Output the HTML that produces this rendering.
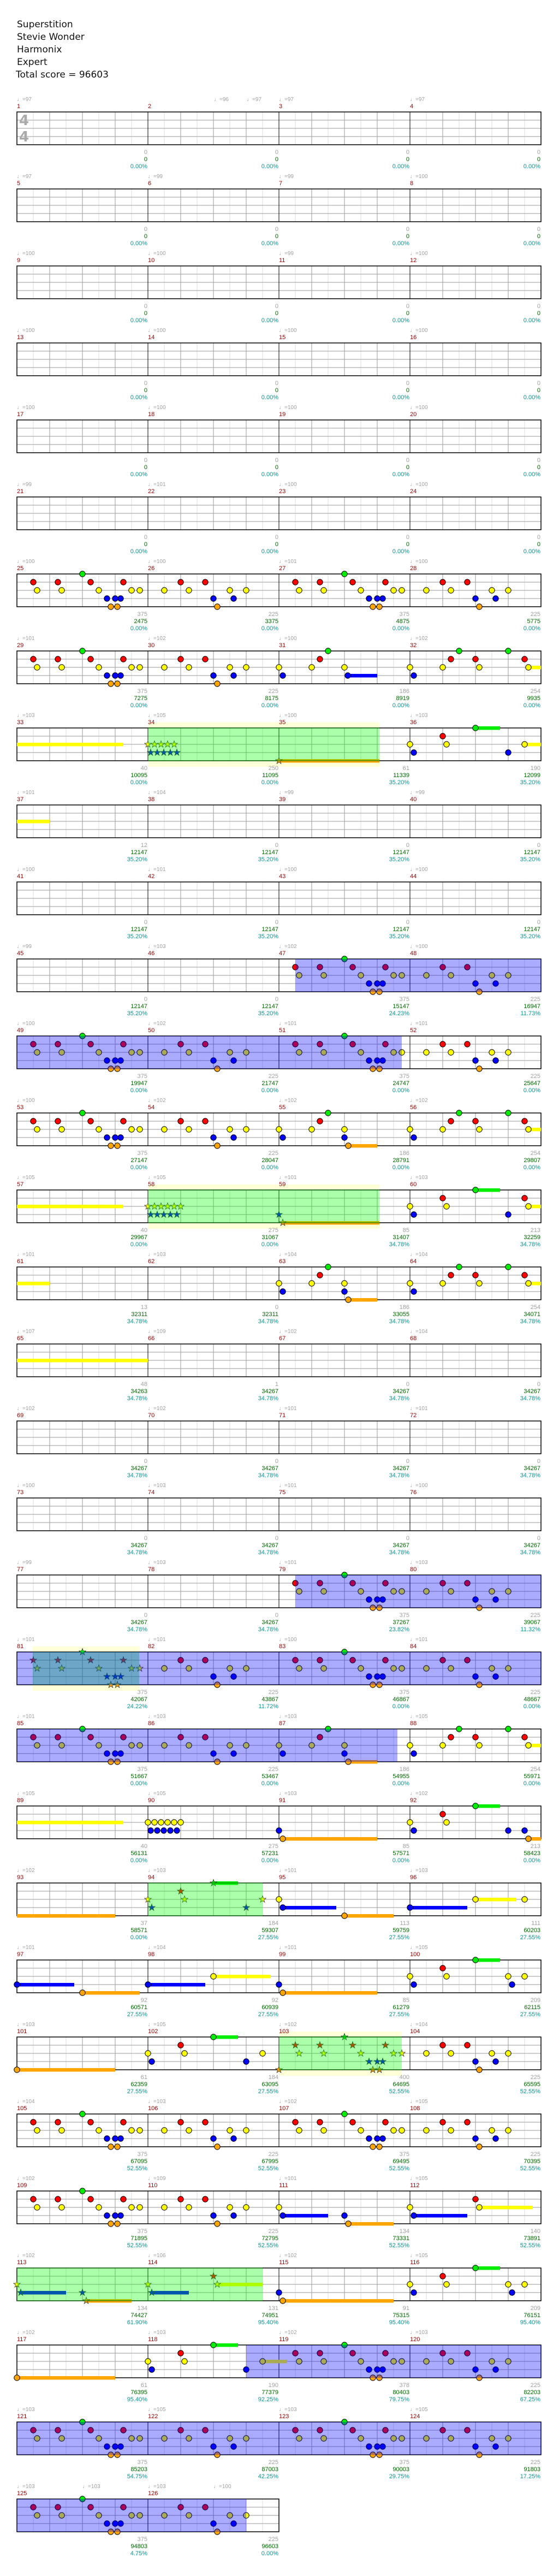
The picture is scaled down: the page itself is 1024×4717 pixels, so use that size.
<!DOCTYPE html>
<html><head><meta charset="utf-8">
<style>
html,body{margin:0;padding:0;background:#fff;}
svg{display:block;}
.h{font-family:"DejaVu Sans","Liberation Sans",sans-serif;font-size:17px;fill:#111;}
.tp{font-family:"Liberation Sans","DejaVu Sans",sans-serif;font-size:10px;fill:#a0a0a0;}
.mn{font-family:"Liberation Sans",sans-serif;font-size:11px;fill:#990000;}
.s1{font-family:"Liberation Sans",sans-serif;font-size:11px;fill:#a0a0a0;text-anchor:end;}
.s2{font-family:"Liberation Sans",sans-serif;font-size:11px;fill:#006600;text-anchor:end;}
.s3{font-family:"Liberation Sans",sans-serif;font-size:11px;fill:#009999;text-anchor:end;}
.ts{font-family:"DejaVu Sans","Liberation Sans",sans-serif;font-size:26px;font-weight:bold;fill:#aaa;}
</style></head>
<body>
<svg id="s" xmlns="http://www.w3.org/2000/svg" width="1024" height="4717" viewBox="0 0 1024 4717">
<rect width="1024" height="4717" fill="#fff"/>
<g id="shapes"></g>
<g id="txt">
<text class="h" x="31" y="50">Superstition</text>
<text class="h" x="31" y="73">Stevie Wonder</text>
<text class="h" x="31" y="96">Harmonix</text>
<text class="h" x="31" y="119">Expert</text>
<text class="h" x="29" y="142">Total score = 96603</text>
<text class="ts" x="35" y="229">4</text>
<text class="ts" x="35" y="259">4</text>

<g transform="translate(0,0)"><text class="tp" y="185"><tspan x="31">♩=97</tspan><tspan x="392">♩=96</tspan><tspan x="452">♩=97</tspan><tspan x="511">♩=97</tspan><tspan x="751">♩=97</tspan></text><text class="mn" y="198"><tspan x="31">1</tspan><tspan x="271">2</tspan><tspan x="511">3</tspan><tspan x="751">4</tspan></text><text class="s1" y="282"><tspan x="270">0</tspan><tspan x="510">0</tspan><tspan x="750">0</tspan><tspan x="990">0</tspan></text><text class="s2" y="295"><tspan x="270">0</tspan><tspan x="510">0</tspan><tspan x="750">0</tspan><tspan x="990">0</tspan></text><text class="s3" y="308"><tspan x="270">0.00%</tspan><tspan x="510">0.00%</tspan><tspan x="750">0.00%</tspan><tspan x="990">0.00%</tspan></text></g>
<g transform="translate(0,141)"><text class="tp" y="185"><tspan x="31">♩=97</tspan><tspan x="271">♩=99</tspan><tspan x="511">♩=99</tspan><tspan x="751">♩=100</tspan></text><text class="mn" y="198"><tspan x="31">5</tspan><tspan x="271">6</tspan><tspan x="511">7</tspan><tspan x="751">8</tspan></text><text class="s1" y="282"><tspan x="270">0</tspan><tspan x="510">0</tspan><tspan x="750">0</tspan><tspan x="990">0</tspan></text><text class="s2" y="295"><tspan x="270">0</tspan><tspan x="510">0</tspan><tspan x="750">0</tspan><tspan x="990">0</tspan></text><text class="s3" y="308"><tspan x="270">0.00%</tspan><tspan x="510">0.00%</tspan><tspan x="750">0.00%</tspan><tspan x="990">0.00%</tspan></text></g>
<g transform="translate(0,282)"><text class="tp" y="185"><tspan x="31">♩=100</tspan><tspan x="271">♩=100</tspan><tspan x="511">♩=99</tspan><tspan x="751">♩=100</tspan></text><text class="mn" y="198"><tspan x="31">9</tspan><tspan x="271">10</tspan><tspan x="511">11</tspan><tspan x="751">12</tspan></text><text class="s1" y="282"><tspan x="270">0</tspan><tspan x="510">0</tspan><tspan x="750">0</tspan><tspan x="990">0</tspan></text><text class="s2" y="295"><tspan x="270">0</tspan><tspan x="510">0</tspan><tspan x="750">0</tspan><tspan x="990">0</tspan></text><text class="s3" y="308"><tspan x="270">0.00%</tspan><tspan x="510">0.00%</tspan><tspan x="750">0.00%</tspan><tspan x="990">0.00%</tspan></text></g>
<g transform="translate(0,423)"><text class="tp" y="185"><tspan x="31">♩=100</tspan><tspan x="271">♩=100</tspan><tspan x="511">♩=100</tspan><tspan x="751">♩=100</tspan></text><text class="mn" y="198"><tspan x="31">13</tspan><tspan x="271">14</tspan><tspan x="511">15</tspan><tspan x="751">16</tspan></text><text class="s1" y="282"><tspan x="270">0</tspan><tspan x="510">0</tspan><tspan x="750">0</tspan><tspan x="990">0</tspan></text><text class="s2" y="295"><tspan x="270">0</tspan><tspan x="510">0</tspan><tspan x="750">0</tspan><tspan x="990">0</tspan></text><text class="s3" y="308"><tspan x="270">0.00%</tspan><tspan x="510">0.00%</tspan><tspan x="750">0.00%</tspan><tspan x="990">0.00%</tspan></text></g>
<g transform="translate(0,564)"><text class="tp" y="185"><tspan x="31">♩=100</tspan><tspan x="271">♩=100</tspan><tspan x="511">♩=100</tspan><tspan x="751">♩=100</tspan></text><text class="mn" y="198"><tspan x="31">17</tspan><tspan x="271">18</tspan><tspan x="511">19</tspan><tspan x="751">20</tspan></text><text class="s1" y="282"><tspan x="270">0</tspan><tspan x="510">0</tspan><tspan x="750">0</tspan><tspan x="990">0</tspan></text><text class="s2" y="295"><tspan x="270">0</tspan><tspan x="510">0</tspan><tspan x="750">0</tspan><tspan x="990">0</tspan></text><text class="s3" y="308"><tspan x="270">0.00%</tspan><tspan x="510">0.00%</tspan><tspan x="750">0.00%</tspan><tspan x="990">0.00%</tspan></text></g>
<g transform="translate(0,705)"><text class="tp" y="185"><tspan x="31">♩=99</tspan><tspan x="271">♩=101</tspan><tspan x="511">♩=100</tspan><tspan x="751">♩=100</tspan></text><text class="mn" y="198"><tspan x="31">21</tspan><tspan x="271">22</tspan><tspan x="511">23</tspan><tspan x="751">24</tspan></text><text class="s1" y="282"><tspan x="270">0</tspan><tspan x="510">0</tspan><tspan x="750">0</tspan><tspan x="990">0</tspan></text><text class="s2" y="295"><tspan x="270">0</tspan><tspan x="510">0</tspan><tspan x="750">0</tspan><tspan x="990">0</tspan></text><text class="s3" y="308"><tspan x="270">0.00%</tspan><tspan x="510">0.00%</tspan><tspan x="750">0.00%</tspan><tspan x="990">0.00%</tspan></text></g>
<g transform="translate(0,846)"><text class="tp" y="185"><tspan x="31">♩=100</tspan><tspan x="271">♩=100</tspan><tspan x="511">♩=101</tspan><tspan x="751">♩=100</tspan></text><text class="mn" y="198"><tspan x="31">25</tspan><tspan x="271">26</tspan><tspan x="511">27</tspan><tspan x="751">28</tspan></text><text class="s1" y="282"><tspan x="270">375</tspan><tspan x="510">225</tspan><tspan x="750">375</tspan><tspan x="990">225</tspan></text><text class="s2" y="295"><tspan x="270">2475</tspan><tspan x="510">3375</tspan><tspan x="750">4875</tspan><tspan x="990">5775</tspan></text><text class="s3" y="308"><tspan x="270">0.00%</tspan><tspan x="510">0.00%</tspan><tspan x="750">0.00%</tspan><tspan x="990">0.00%</tspan></text></g>
<g transform="translate(0,987)"><text class="tp" y="185"><tspan x="31">♩=101</tspan><tspan x="271">♩=102</tspan><tspan x="511">♩=100</tspan><tspan x="751">♩=102</tspan></text><text class="mn" y="198"><tspan x="31">29</tspan><tspan x="271">30</tspan><tspan x="511">31</tspan><tspan x="751">32</tspan></text><text class="s1" y="282"><tspan x="270">375</tspan><tspan x="510">225</tspan><tspan x="750">186</tspan><tspan x="990">254</tspan></text><text class="s2" y="295"><tspan x="270">7275</tspan><tspan x="510">8175</tspan><tspan x="750">8919</tspan><tspan x="990">9935</tspan></text><text class="s3" y="308"><tspan x="270">0.00%</tspan><tspan x="510">0.00%</tspan><tspan x="750">0.00%</tspan><tspan x="990">0.00%</tspan></text></g>
<g transform="translate(0,1128)"><text class="tp" y="185"><tspan x="31">♩=103</tspan><tspan x="271">♩=105</tspan><tspan x="511">♩=100</tspan><tspan x="751">♩=103</tspan></text><text class="mn" y="198"><tspan x="31">33</tspan><tspan x="271">34</tspan><tspan x="511">35</tspan><tspan x="751">36</tspan></text><text class="s1" y="282"><tspan x="270">40</tspan><tspan x="510">250</tspan><tspan x="750">61</tspan><tspan x="990">190</tspan></text><text class="s2" y="295"><tspan x="270">10095</tspan><tspan x="510">11095</tspan><tspan x="750">11339</tspan><tspan x="990">12099</tspan></text><text class="s3" y="308"><tspan x="270">0.00%</tspan><tspan x="510">0.00%</tspan><tspan x="750">35.20%</tspan><tspan x="990">35.20%</tspan></text></g>
<g transform="translate(0,1269)"><text class="tp" y="185"><tspan x="31">♩=101</tspan><tspan x="271">♩=104</tspan><tspan x="511">♩=99</tspan><tspan x="751">♩=99</tspan></text><text class="mn" y="198"><tspan x="31">37</tspan><tspan x="271">38</tspan><tspan x="511">39</tspan><tspan x="751">40</tspan></text><text class="s1" y="282"><tspan x="270">12</tspan><tspan x="510">0</tspan><tspan x="750">0</tspan><tspan x="990">0</tspan></text><text class="s2" y="295"><tspan x="270">12147</tspan><tspan x="510">12147</tspan><tspan x="750">12147</tspan><tspan x="990">12147</tspan></text><text class="s3" y="308"><tspan x="270">35.20%</tspan><tspan x="510">35.20%</tspan><tspan x="750">35.20%</tspan><tspan x="990">35.20%</tspan></text></g>
<g transform="translate(0,1410)"><text class="tp" y="185"><tspan x="31">♩=100</tspan><tspan x="271">♩=101</tspan><tspan x="511">♩=100</tspan><tspan x="751">♩=100</tspan></text><text class="mn" y="198"><tspan x="31">41</tspan><tspan x="271">42</tspan><tspan x="511">43</tspan><tspan x="751">44</tspan></text><text class="s1" y="282"><tspan x="270">0</tspan><tspan x="510">0</tspan><tspan x="750">0</tspan><tspan x="990">0</tspan></text><text class="s2" y="295"><tspan x="270">12147</tspan><tspan x="510">12147</tspan><tspan x="750">12147</tspan><tspan x="990">12147</tspan></text><text class="s3" y="308"><tspan x="270">35.20%</tspan><tspan x="510">35.20%</tspan><tspan x="750">35.20%</tspan><tspan x="990">35.20%</tspan></text></g>
<g transform="translate(0,1551)"><text class="tp" y="185"><tspan x="31">♩=99</tspan><tspan x="271">♩=103</tspan><tspan x="511">♩=102</tspan><tspan x="751">♩=100</tspan></text><text class="mn" y="198"><tspan x="31">45</tspan><tspan x="271">46</tspan><tspan x="511">47</tspan><tspan x="751">48</tspan></text><text class="s1" y="282"><tspan x="270">0</tspan><tspan x="510">0</tspan><tspan x="750">375</tspan><tspan x="990">225</tspan></text><text class="s2" y="295"><tspan x="270">12147</tspan><tspan x="510">12147</tspan><tspan x="750">15147</tspan><tspan x="990">16947</tspan></text><text class="s3" y="308"><tspan x="270">35.20%</tspan><tspan x="510">35.20%</tspan><tspan x="750">24.23%</tspan><tspan x="990">11.73%</tspan></text></g>
<g transform="translate(0,1692)"><text class="tp" y="185"><tspan x="31">♩=100</tspan><tspan x="271">♩=102</tspan><tspan x="511">♩=101</tspan><tspan x="751">♩=101</tspan></text><text class="mn" y="198"><tspan x="31">49</tspan><tspan x="271">50</tspan><tspan x="511">51</tspan><tspan x="751">52</tspan></text><text class="s1" y="282"><tspan x="270">375</tspan><tspan x="510">225</tspan><tspan x="750">375</tspan><tspan x="990">225</tspan></text><text class="s2" y="295"><tspan x="270">19947</tspan><tspan x="510">21747</tspan><tspan x="750">24747</tspan><tspan x="990">25647</tspan></text><text class="s3" y="308"><tspan x="270">0.00%</tspan><tspan x="510">0.00%</tspan><tspan x="750">0.00%</tspan><tspan x="990">0.00%</tspan></text></g>
<g transform="translate(0,1833)"><text class="tp" y="185"><tspan x="31">♩=100</tspan><tspan x="271">♩=102</tspan><tspan x="511">♩=102</tspan><tspan x="751">♩=102</tspan></text><text class="mn" y="198"><tspan x="31">53</tspan><tspan x="271">54</tspan><tspan x="511">55</tspan><tspan x="751">56</tspan></text><text class="s1" y="282"><tspan x="270">375</tspan><tspan x="510">225</tspan><tspan x="750">186</tspan><tspan x="990">254</tspan></text><text class="s2" y="295"><tspan x="270">27147</tspan><tspan x="510">28047</tspan><tspan x="750">28791</tspan><tspan x="990">29807</tspan></text><text class="s3" y="308"><tspan x="270">0.00%</tspan><tspan x="510">0.00%</tspan><tspan x="750">0.00%</tspan><tspan x="990">0.00%</tspan></text></g>
<g transform="translate(0,1974)"><text class="tp" y="185"><tspan x="31">♩=105</tspan><tspan x="271">♩=105</tspan><tspan x="511">♩=101</tspan><tspan x="751">♩=103</tspan></text><text class="mn" y="198"><tspan x="31">57</tspan><tspan x="271">58</tspan><tspan x="511">59</tspan><tspan x="751">60</tspan></text><text class="s1" y="282"><tspan x="270">40</tspan><tspan x="510">275</tspan><tspan x="750">85</tspan><tspan x="990">213</tspan></text><text class="s2" y="295"><tspan x="270">29967</tspan><tspan x="510">31067</tspan><tspan x="750">31407</tspan><tspan x="990">32259</tspan></text><text class="s3" y="308"><tspan x="270">0.00%</tspan><tspan x="510">0.00%</tspan><tspan x="750">34.78%</tspan><tspan x="990">34.78%</tspan></text></g>
<g transform="translate(0,2115)"><text class="tp" y="185"><tspan x="31">♩=101</tspan><tspan x="271">♩=103</tspan><tspan x="511">♩=104</tspan><tspan x="751">♩=104</tspan></text><text class="mn" y="198"><tspan x="31">61</tspan><tspan x="271">62</tspan><tspan x="511">63</tspan><tspan x="751">64</tspan></text><text class="s1" y="282"><tspan x="270">13</tspan><tspan x="510">0</tspan><tspan x="750">186</tspan><tspan x="990">254</tspan></text><text class="s2" y="295"><tspan x="270">32311</tspan><tspan x="510">32311</tspan><tspan x="750">33055</tspan><tspan x="990">34071</tspan></text><text class="s3" y="308"><tspan x="270">34.78%</tspan><tspan x="510">34.78%</tspan><tspan x="750">34.78%</tspan><tspan x="990">34.78%</tspan></text></g>
<g transform="translate(0,2256)"><text class="tp" y="185"><tspan x="31">♩=107</tspan><tspan x="271">♩=109</tspan><tspan x="511">♩=102</tspan><tspan x="751">♩=104</tspan></text><text class="mn" y="198"><tspan x="31">65</tspan><tspan x="271">66</tspan><tspan x="511">67</tspan><tspan x="751">68</tspan></text><text class="s1" y="282"><tspan x="270">48</tspan><tspan x="510">1</tspan><tspan x="750">0</tspan><tspan x="990">0</tspan></text><text class="s2" y="295"><tspan x="270">34263</tspan><tspan x="510">34267</tspan><tspan x="750">34267</tspan><tspan x="990">34267</tspan></text><text class="s3" y="308"><tspan x="270">34.78%</tspan><tspan x="510">34.78%</tspan><tspan x="750">34.78%</tspan><tspan x="990">34.78%</tspan></text></g>
<g transform="translate(0,2397)"><text class="tp" y="185"><tspan x="31">♩=102</tspan><tspan x="271">♩=102</tspan><tspan x="511">♩=101</tspan><tspan x="751">♩=101</tspan></text><text class="mn" y="198"><tspan x="31">69</tspan><tspan x="271">70</tspan><tspan x="511">71</tspan><tspan x="751">72</tspan></text><text class="s1" y="282"><tspan x="270">0</tspan><tspan x="510">0</tspan><tspan x="750">0</tspan><tspan x="990">0</tspan></text><text class="s2" y="295"><tspan x="270">34267</tspan><tspan x="510">34267</tspan><tspan x="750">34267</tspan><tspan x="990">34267</tspan></text><text class="s3" y="308"><tspan x="270">34.78%</tspan><tspan x="510">34.78%</tspan><tspan x="750">34.78%</tspan><tspan x="990">34.78%</tspan></text></g>
<g transform="translate(0,2538)"><text class="tp" y="185"><tspan x="31">♩=100</tspan><tspan x="271">♩=103</tspan><tspan x="511">♩=101</tspan><tspan x="751">♩=100</tspan></text><text class="mn" y="198"><tspan x="31">73</tspan><tspan x="271">74</tspan><tspan x="511">75</tspan><tspan x="751">76</tspan></text><text class="s1" y="282"><tspan x="270">0</tspan><tspan x="510">0</tspan><tspan x="750">0</tspan><tspan x="990">0</tspan></text><text class="s2" y="295"><tspan x="270">34267</tspan><tspan x="510">34267</tspan><tspan x="750">34267</tspan><tspan x="990">34267</tspan></text><text class="s3" y="308"><tspan x="270">34.78%</tspan><tspan x="510">34.78%</tspan><tspan x="750">34.78%</tspan><tspan x="990">34.78%</tspan></text></g>
<g transform="translate(0,2679)"><text class="tp" y="185"><tspan x="31">♩=99</tspan><tspan x="271">♩=103</tspan><tspan x="511">♩=101</tspan><tspan x="751">♩=103</tspan></text><text class="mn" y="198"><tspan x="31">77</tspan><tspan x="271">78</tspan><tspan x="511">79</tspan><tspan x="751">80</tspan></text><text class="s1" y="282"><tspan x="270">0</tspan><tspan x="510">0</tspan><tspan x="750">375</tspan><tspan x="990">225</tspan></text><text class="s2" y="295"><tspan x="270">34267</tspan><tspan x="510">34267</tspan><tspan x="750">37267</tspan><tspan x="990">39067</tspan></text><text class="s3" y="308"><tspan x="270">34.78%</tspan><tspan x="510">34.78%</tspan><tspan x="750">23.82%</tspan><tspan x="990">11.32%</tspan></text></g>
<g transform="translate(0,2820)"><text class="tp" y="185"><tspan x="31">♩=101</tspan><tspan x="271">♩=101</tspan><tspan x="511">♩=100</tspan><tspan x="751">♩=101</tspan></text><text class="mn" y="198"><tspan x="31">81</tspan><tspan x="271">82</tspan><tspan x="511">83</tspan><tspan x="751">84</tspan></text><text class="s1" y="282"><tspan x="270">375</tspan><tspan x="510">225</tspan><tspan x="750">375</tspan><tspan x="990">225</tspan></text><text class="s2" y="295"><tspan x="270">42067</tspan><tspan x="510">43867</tspan><tspan x="750">46867</tspan><tspan x="990">48667</tspan></text><text class="s3" y="308"><tspan x="270">24.22%</tspan><tspan x="510">11.72%</tspan><tspan x="750">0.00%</tspan><tspan x="990">0.00%</tspan></text></g>
<g transform="translate(0,2961)"><text class="tp" y="185"><tspan x="31">♩=101</tspan><tspan x="271">♩=103</tspan><tspan x="511">♩=103</tspan><tspan x="751">♩=105</tspan></text><text class="mn" y="198"><tspan x="31">85</tspan><tspan x="271">86</tspan><tspan x="511">87</tspan><tspan x="751">88</tspan></text><text class="s1" y="282"><tspan x="270">375</tspan><tspan x="510">225</tspan><tspan x="750">186</tspan><tspan x="990">254</tspan></text><text class="s2" y="295"><tspan x="270">51667</tspan><tspan x="510">53467</tspan><tspan x="750">54955</tspan><tspan x="990">55971</tspan></text><text class="s3" y="308"><tspan x="270">0.00%</tspan><tspan x="510">0.00%</tspan><tspan x="750">0.00%</tspan><tspan x="990">0.00%</tspan></text></g>
<g transform="translate(0,3102)"><text class="tp" y="185"><tspan x="31">♩=105</tspan><tspan x="271">♩=105</tspan><tspan x="511">♩=103</tspan><tspan x="751">♩=102</tspan></text><text class="mn" y="198"><tspan x="31">89</tspan><tspan x="271">90</tspan><tspan x="511">91</tspan><tspan x="751">92</tspan></text><text class="s1" y="282"><tspan x="270">40</tspan><tspan x="510">275</tspan><tspan x="750">85</tspan><tspan x="990">213</tspan></text><text class="s2" y="295"><tspan x="270">56131</tspan><tspan x="510">57231</tspan><tspan x="750">57571</tspan><tspan x="990">58423</tspan></text><text class="s3" y="308"><tspan x="270">0.00%</tspan><tspan x="510">0.00%</tspan><tspan x="750">0.00%</tspan><tspan x="990">0.00%</tspan></text></g>
<g transform="translate(0,3243)"><text class="tp" y="185"><tspan x="31">♩=102</tspan><tspan x="271">♩=103</tspan><tspan x="511">♩=101</tspan><tspan x="751">♩=103</tspan></text><text class="mn" y="198"><tspan x="31">93</tspan><tspan x="271">94</tspan><tspan x="511">95</tspan><tspan x="751">96</tspan></text><text class="s1" y="282"><tspan x="270">37</tspan><tspan x="510">184</tspan><tspan x="750">113</tspan><tspan x="990">111</tspan></text><text class="s2" y="295"><tspan x="270">58571</tspan><tspan x="510">59307</tspan><tspan x="750">59759</tspan><tspan x="990">60203</tspan></text><text class="s3" y="308"><tspan x="270">0.00%</tspan><tspan x="510">27.55%</tspan><tspan x="750">27.55%</tspan><tspan x="990">27.55%</tspan></text></g>
<g transform="translate(0,3384)"><text class="tp" y="185"><tspan x="31">♩=101</tspan><tspan x="271">♩=104</tspan><tspan x="511">♩=101</tspan><tspan x="751">♩=105</tspan></text><text class="mn" y="198"><tspan x="31">97</tspan><tspan x="271">98</tspan><tspan x="511">99</tspan><tspan x="751">100</tspan></text><text class="s1" y="282"><tspan x="270">92</tspan><tspan x="510">92</tspan><tspan x="750">85</tspan><tspan x="990">209</tspan></text><text class="s2" y="295"><tspan x="270">60571</tspan><tspan x="510">60939</tspan><tspan x="750">61279</tspan><tspan x="990">62115</tspan></text><text class="s3" y="308"><tspan x="270">27.55%</tspan><tspan x="510">27.55%</tspan><tspan x="750">27.55%</tspan><tspan x="990">27.55%</tspan></text></g>
<g transform="translate(0,3525)"><text class="tp" y="185"><tspan x="31">♩=103</tspan><tspan x="271">♩=105</tspan><tspan x="511">♩=102</tspan><tspan x="751">♩=104</tspan></text><text class="mn" y="198"><tspan x="31">101</tspan><tspan x="271">102</tspan><tspan x="511">103</tspan><tspan x="751">104</tspan></text><text class="s1" y="282"><tspan x="270">61</tspan><tspan x="510">184</tspan><tspan x="750">400</tspan><tspan x="990">225</tspan></text><text class="s2" y="295"><tspan x="270">62359</tspan><tspan x="510">63095</tspan><tspan x="750">64695</tspan><tspan x="990">65595</tspan></text><text class="s3" y="308"><tspan x="270">27.55%</tspan><tspan x="510">27.55%</tspan><tspan x="750">52.55%</tspan><tspan x="990">52.55%</tspan></text></g>
<g transform="translate(0,3666)"><text class="tp" y="185"><tspan x="31">♩=104</tspan><tspan x="271">♩=103</tspan><tspan x="511">♩=102</tspan><tspan x="751">♩=105</tspan></text><text class="mn" y="198"><tspan x="31">105</tspan><tspan x="271">106</tspan><tspan x="511">107</tspan><tspan x="751">108</tspan></text><text class="s1" y="282"><tspan x="270">375</tspan><tspan x="510">225</tspan><tspan x="750">375</tspan><tspan x="990">225</tspan></text><text class="s2" y="295"><tspan x="270">67095</tspan><tspan x="510">67995</tspan><tspan x="750">69495</tspan><tspan x="990">70395</tspan></text><text class="s3" y="308"><tspan x="270">52.55%</tspan><tspan x="510">52.55%</tspan><tspan x="750">52.55%</tspan><tspan x="990">52.55%</tspan></text></g>
<g transform="translate(0,3807)"><text class="tp" y="185"><tspan x="31">♩=102</tspan><tspan x="271">♩=109</tspan><tspan x="511">♩=101</tspan><tspan x="751">♩=105</tspan></text><text class="mn" y="198"><tspan x="31">109</tspan><tspan x="271">110</tspan><tspan x="511">111</tspan><tspan x="751">112</tspan></text><text class="s1" y="282"><tspan x="270">375</tspan><tspan x="510">225</tspan><tspan x="750">134</tspan><tspan x="990">140</tspan></text><text class="s2" y="295"><tspan x="270">71895</tspan><tspan x="510">72795</tspan><tspan x="750">73331</tspan><tspan x="990">73891</tspan></text><text class="s3" y="308"><tspan x="270">52.55%</tspan><tspan x="510">52.55%</tspan><tspan x="750">52.55%</tspan><tspan x="990">52.55%</tspan></text></g>
<g transform="translate(0,3948)"><text class="tp" y="185"><tspan x="31">♩=102</tspan><tspan x="271">♩=106</tspan><tspan x="511">♩=102</tspan><tspan x="751">♩=105</tspan></text><text class="mn" y="198"><tspan x="31">113</tspan><tspan x="271">114</tspan><tspan x="511">115</tspan><tspan x="751">116</tspan></text><text class="s1" y="282"><tspan x="270">134</tspan><tspan x="510">131</tspan><tspan x="750">91</tspan><tspan x="990">209</tspan></text><text class="s2" y="295"><tspan x="270">74427</tspan><tspan x="510">74951</tspan><tspan x="750">75315</tspan><tspan x="990">76151</tspan></text><text class="s3" y="308"><tspan x="270">61.90%</tspan><tspan x="510">95.40%</tspan><tspan x="750">95.40%</tspan><tspan x="990">95.40%</tspan></text></g>
<g transform="translate(0,4089)"><text class="tp" y="185"><tspan x="31">♩=102</tspan><tspan x="271">♩=103</tspan><tspan x="511">♩=102</tspan><tspan x="751">♩=103</tspan></text><text class="mn" y="198"><tspan x="31">117</tspan><tspan x="271">118</tspan><tspan x="511">119</tspan><tspan x="751">120</tspan></text><text class="s1" y="282"><tspan x="270">61</tspan><tspan x="510">190</tspan><tspan x="750">378</tspan><tspan x="990">225</tspan></text><text class="s2" y="295"><tspan x="270">76395</tspan><tspan x="510">77379</tspan><tspan x="750">80403</tspan><tspan x="990">82203</tspan></text><text class="s3" y="308"><tspan x="270">95.40%</tspan><tspan x="510">92.25%</tspan><tspan x="750">79.75%</tspan><tspan x="990">67.25%</tspan></text></g>
<g transform="translate(0,4230)"><text class="tp" y="185"><tspan x="31">♩=103</tspan><tspan x="271">♩=105</tspan><tspan x="511">♩=103</tspan><tspan x="751">♩=105</tspan></text><text class="mn" y="198"><tspan x="31">121</tspan><tspan x="271">122</tspan><tspan x="511">123</tspan><tspan x="751">124</tspan></text><text class="s1" y="282"><tspan x="270">375</tspan><tspan x="510">225</tspan><tspan x="750">375</tspan><tspan x="990">225</tspan></text><text class="s2" y="295"><tspan x="270">85203</tspan><tspan x="510">87003</tspan><tspan x="750">90003</tspan><tspan x="990">91803</tspan></text><text class="s3" y="308"><tspan x="270">54.75%</tspan><tspan x="510">42.25%</tspan><tspan x="750">29.75%</tspan><tspan x="990">17.25%</tspan></text></g>
<g transform="translate(0,4371)"><text class="tp" y="185"><tspan x="31">♩=103</tspan><tspan x="151">♩=103</tspan><tspan x="271">♩=103</tspan><tspan x="391">♩=100</tspan></text><text class="mn" y="198"><tspan x="31">125</tspan><tspan x="271">126</tspan></text><text class="s1" y="282"><tspan x="270">375</tspan><tspan x="510">225</tspan></text><text class="s2" y="295"><tspan x="270">94803</tspan><tspan x="510">96603</tspan></text><text class="s3" y="308"><tspan x="270">4.75%</tspan><tspan x="510">0.00%</tspan></text></g>
</g>
</svg>
<script>
(function(){
var NS="http://www.w3.org/2000/svg";
var G=document.getElementById("shapes");
function el(t,a){var e=document.createElementNS(NS,t);for(var k in a)e.setAttribute(k,a[k]);G.appendChild(e);return e;}
var COL=["#00ee00","#ff0000","#ffff00","#0000ff","#ffa500"];
function T(r){return 205+141*r;}
function MX(m){var k=(m-1)%4;return 31+240*k;}
function RW(m){return Math.floor((m-1)/4);}
var A=[[120,0],[30,1],[75,1],[135,1],[195,1],[37,2],[82,2],[150,2],[210,2],[225,2],[165,3],[180,3],[190,3],[172,4],[184,4]];
var B=[[60,1],[105,1],[30,2],[75,2],[150,2],[180,2],[120,3],[157,3],[127,4]];
var C=[[90,0],[75,1],[0,2],[60,2],[120,2],[7,3],[126,3,180]];
var C2=[[90,0],[75,1],[0,2],[60,2],[120,2],[7,3],[120,3],[127,4,180]];
var D=[[90,0],[180,0],[75,1],[120,1],[210,1],[0,2],[60,2],[127,2],[217,2,240],[7,3]];
var E=[[0,2,195,'n']];
var Y60=[[0,2,60,'n']];
var Y240=[[0,2,240,'n']];
var M34=[[0,2,0,'s'],[12,2,0,'s'],[24,2,0,'s'],[36,2,0,'s'],[48,2,0,'s'],[5,3,0,'s'],[17,3,0,'s'],[29,3,0,'s'],[41,3,0,'s'],[53,3,0,'s']];
var M58=M34.concat([[60,2,0,'s']]);
var M35=[[0,4,184,'s']];
var M59=[[0,3,0,'s'],[7,4,184,'s']];
var F36=[[120,0,165],[60,1],[0,2],[67,2],[210,2,240],[7,3],[180,3]];
var F60=[[120,0,165],[60,1],[210,1],[0,2],[67,2],[217,2,240],[7,3],[180,3]];
var F92=[[120,0,165],[60,1],[0,2],[67,2],[7,3],[180,3],[210,3],[217,4,240]];
var M90=[[0,2],[12,2],[24,2],[36,2],[48,2],[60,2],[5,3],[17,3],[29,3],[41,3],[53,3]];
var M91=[[0,3],[7,4,180]];
var M93=[[0,4,180,'n']];
var M94=[[120,0,165,'s'],[60,1,0,'s'],[0,2,0,'s'],[67,2,0,'s'],[210,2,0,'s'],[7,3,0,'s'],[180,3,0,'s']];
var M95=[[0,2],[7,3,105],[120,4,210]];
var M96=[[0,3,105],[120,2,195],[210,2]];
var M97=[[0,3,105],[120,4,225]];
var M98=[[0,3,105],[120,2,225]];
var M99=[[0,3],[7,4,180]];
var M100=[[120,0,165],[60,1],[0,2],[67,2],[180,2],[210,2],[7,3],[187,3]];
var M101=[[0,4,180]];
var M102=[[120,0,165],[60,1],[0,2],[67,2],[210,2],[7,3],[180,3]];
function stars(p){return p.map(function(n){return [n[0],n[1],n[2]||0,'s'];});}
var AS=stars(A);
var M103=AS.concat([[0,4,0,'s']]);
var M111=[[0,2],[7,3,90],[120,3],[127,4,210]];
var M112=[[0,2],[7,3,105],[120,1],[127,2,225]];
var M113=stars([[0,2],[7,3,90],[120,3],[127,4,210]]);
var M114=stars([[0,2],[7,3,75],[120,1],[127,2,210]]);
var M115=[[0,3],[7,4,210]];
var M117=[[0,4,180]];
var M118=[[0,2],[67,2],[60,1],[7,3],[180,3],[120,0,165],[210,2,255]];
var P={25:A,26:B,27:A,28:B,29:A,30:B,31:C,32:D,33:E,34:M34,35:M35,36:F36,37:Y60,47:A,48:B,49:A,50:B,51:A,52:B,53:A,54:B,55:C2,56:D,57:E,58:M58,59:M59,60:F60,61:Y60,63:C2,64:D,65:Y240,79:A,80:B,81:AS,82:B,83:A,84:B,85:A,86:B,87:C2,88:D,89:E,90:M90,91:M91,92:F92,93:M93,94:M94,95:M95,96:M96,97:M97,98:M98,99:M99,100:M100,101:M101,102:M102,103:M103,104:B,105:A,106:B,107:A,108:B,109:A,110:B,111:M111,112:M112,113:M113,114:M114,115:M115,116:M100,117:M117,118:M118,119:A,120:B,121:A,122:B,123:A,124:B,125:A,126:B};
var SP=[[8,271,695,1],[14,271,695,1],[23,271,481,0],[25,511,736,1],[28,31,481,0]];
var OD=[[11,541,991],[12,31,736],[19,541,991],[20,31,991],[21,31,728],[29,451,991],[30,31,991],[31,31,451]];
var TEAL=[[20,60,255]];
SP.forEach(function(s){if(s[3])el("rect",{x:s[1],y:T(s[0])-10,width:s[2]-s[1],height:81,fill:"#ffffd8"});});
TEAL.forEach(function(s){el("rect",{x:s[1],y:T(s[0])-10,width:s[2]-s[1],height:81,fill:"#ffffd8"});});
for(var r=0;r<32;r++){
  var t=T(r),w=(r==31)?480:960,x0=31;
  el("rect",{x:x0,y:t,width:w,height:60,fill:"#fff"});
  for(var x=x0+30;x<x0+w;x+=60)el("line",{x1:x,y1:t,x2:x,y2:t+60,stroke:"#dcdcdc","stroke-width":1});
  for(var x=x0+60;x<x0+w;x+=60)el("line",{x1:x,y1:t,x2:x,y2:t+60,stroke:"#9a9a9a","stroke-width":1});
  for(var i=1;i<4;i++)el("line",{x1:x0,y1:t+15*i,x2:x0+w,y2:t+15*i,stroke:"#9a9a9a","stroke-width":1});
  for(var x=x0+240;x<x0+w;x+=240)el("line",{x1:x,y1:t,x2:x,y2:t+60,stroke:"#000","stroke-width":1});
  el("rect",{x:x0,y:t,width:w,height:60,fill:"none",stroke:"#000","stroke-width":1.5});
}
function star(cx,cy,col){
  var p=[];for(var i=0;i<10;i++){var a=-Math.PI/2+i*Math.PI/5,rr=i%2?2.6:6.5;p.push((cx+rr*Math.cos(a)).toFixed(1)+","+(cy+rr*Math.sin(a)).toFixed(1));}
  el("polygon",{points:p.join(" "),fill:col,stroke:"#333","stroke-width":0.8});
}
for(var m in P){
  var pat=P[m],x0=MX(+m),t=T(RW(+m));
  pat.forEach(function(n){if(n[2]&&n[2]>n[0]){el("rect",{x:x0+n[0],y:t+15*n[1]-3,width:n[2]-n[0],height:6.5,fill:COL[n[1]]});}});
}
for(var m in P){
  var pat=P[m],x0=MX(+m),t=T(RW(+m));
  pat.forEach(function(n){
    if(n[3]=='n')return;
    var cx=x0+n[0],cy=t+15*n[1];
    if(n[3]=='s')star(cx,cy,COL[n[1]]);
    else el("circle",{cx:cx,cy:cy,r:5.2,fill:COL[n[1]],stroke:"#000","stroke-width":1});
  });
}
SP.forEach(function(s){el("rect",{x:s[1],y:T(s[0]),width:s[2]-s[1],height:60,fill:"#00ff00","fill-opacity":0.33});
  el("line",{x1:s[1],y1:T(s[0]),x2:s[2],y2:T(s[0]),stroke:"#006600","stroke-width":1});
  el("line",{x1:s[1],y1:T(s[0])+60,x2:s[2],y2:T(s[0])+60,stroke:"#006600","stroke-width":1});});
OD.forEach(function(s){el("rect",{x:s[1],y:T(s[0]),width:s[2]-s[1],height:60,fill:"#0000ff","fill-opacity":0.333});});
TEAL.forEach(function(s){el("rect",{x:s[1],y:T(s[0]),width:s[2]-s[1],height:60,fill:"#00a060","fill-opacity":0.35});});
})();
</script>
</body></html>
